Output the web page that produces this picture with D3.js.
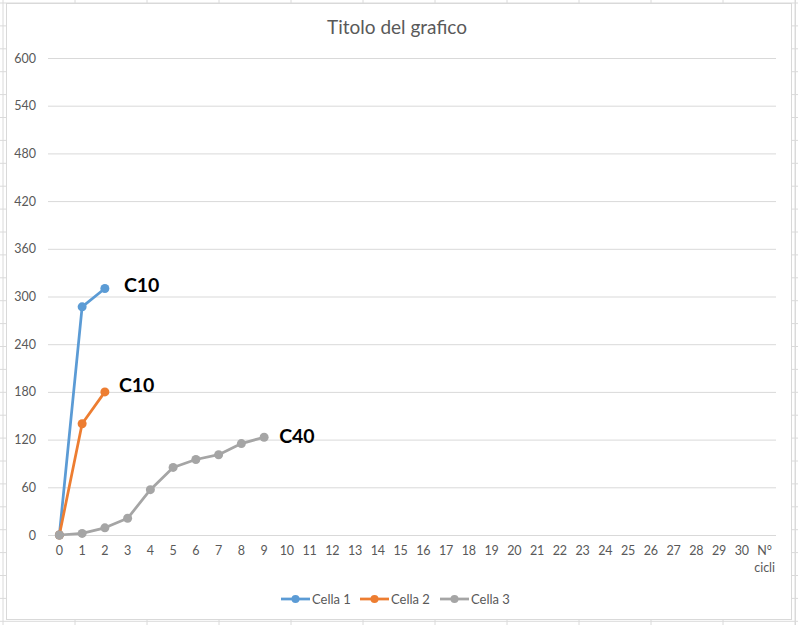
<!DOCTYPE html>
<html>
<head>
<meta charset="utf-8">
<script src="https://cdn.jsdelivr.net/npm/d3@7"></script>
<style>
  html, body { margin: 0; padding: 0; background: #ffffff; }
  svg { display: block; }
  text { font-family: Lato, "Open Sans", "Liberation Sans", sans-serif; }
</style>
</head>
<body>
<svg id="chart" width="798" height="625"></svg>
<script>
// ---- data ----
const categories = ["0","1","2","3","4","5","6","7","8","9","10","11","12","13","14","15","16","17","18","19","20","21","22","23","24","25","26","27","28","29","30","N° cicli"];
const yTicks = [0, 60, 120, 180, 240, 300, 360, 420, 480, 540, 600];
const seriesNames = ["Cella 1", "Cella 2", "Cella 3"];
const cella1 = [0, 287, 310];
const cella2 = [0, 140, 180];
const cella3 = [0, 2, 9, 21, 57, 85, 95, 101, 115, 123];
const endLabels = ["C10", "C10", "C40"];
const chartTitle = "Titolo del grafico";

const colors = ["#5B9BD5", "#ED7D31", "#A5A5A5"];
const seriesData = [cella1, cella2, cella3];

const svg = d3.select("#chart");
const W = 798, H = 625;

// spreadsheet grid behind the chart
const sheet = svg.append("g");
for (let gx = 3; gx < W; gx += 72) {
  sheet.append("line").attr("x1", gx).attr("x2", gx).attr("y1", 0).attr("y2", H)
    .attr("stroke", "#dadada").attr("stroke-width", 1);
}
for (let gy = 3; gy < H; gy += 22.9) {
  sheet.append("line").attr("x1", 0).attr("x2", W).attr("y1", gy).attr("y2", gy)
    .attr("stroke", "#dadada").attr("stroke-width", 1);
}
svg.append("line").attr("x1", 795.5).attr("x2", 795.5).attr("y1", 0).attr("y2", H)
  .attr("stroke", "#dadada");

// chart area
svg.append("rect").attr("x", 6.5).attr("y", 3.5).attr("width", 785).attr("height", 616)
  .attr("fill", "#ffffff").attr("stroke", "#d9d9d9").attr("stroke-width", 1);

const plot = { left: 48, right: 776, top: 58, bottom: 535 };

const x = d3.scaleBand().domain(categories).range([plot.left, plot.right]);
const xc = c => x(c) + x.bandwidth() / 2;
const y = d3.scaleLinear().domain([0, 600]).range([plot.bottom, plot.top]);

// title
svg.append("text").attr("x", 397).attr("y", 34).attr("text-anchor", "middle")
  .attr("font-size", 19).attr("fill", "#595959").text(chartTitle);

// gridlines + y axis labels
const yAxis = d3.axisLeft(y).tickValues(yTicks).tickSize(-(plot.right - plot.left)).tickPadding(12);
const gy = svg.append("g").attr("transform", `translate(${plot.left},0)`).call(yAxis);
gy.select(".domain").remove();
gy.selectAll(".tick line").attr("stroke", "#d9d9d9").attr("stroke-width", 1);
gy.selectAll(".tick text").attr("fill", "#595959").attr("font-size", 12.5)
  .style("font-family", "Lato, 'Open Sans', sans-serif");

// x axis
const xAxis = d3.axisBottom(x).tickSize(0).tickPadding(11);
const gx = svg.append("g").attr("transform", `translate(0,${plot.bottom})`).call(xAxis);
gx.select(".domain").attr("stroke", "#d9d9d9").attr("d", `M${plot.left},0.5H${plot.right}`);
gx.selectAll(".tick text").attr("fill", "#595959").attr("font-size", 12.5)
  .style("font-family", "Lato, 'Open Sans', sans-serif")
  .each(function(d) {
    if (d.indexOf(" ") >= 0) {
      const parts = d.split(" ");
      const t = d3.select(this).text(null);
      parts.forEach((p, i) => {
        t.append("tspan").attr("x", 0).attr("dy", i === 0 ? "0.71em" : "1.35em").text(p);
      });
      t.attr("dy", null);
    }
  });

// series
const line = d3.line().x((d, i) => xc(categories[i])).y(d => y(d));
const labelOffsets = [[19, -3], [14, -7], [15, -1]];
seriesData.forEach((vals, si) => {
  const g = svg.append("g");
  g.append("path").datum(vals).attr("d", line).attr("fill", "none")
    .attr("stroke", colors[si]).attr("stroke-width", 2.75).attr("stroke-linejoin", "round");
  g.selectAll("circle").data(vals).join("circle")
    .attr("cx", (d, i) => xc(categories[i])).attr("cy", d => y(d)).attr("r", 4.5)
    .attr("fill", colors[si]);
  const li = vals.length - 1;
  svg.append("text")
    .attr("x", xc(categories[li]) + labelOffsets[si][0])
    .attr("y", y(vals[li]) + labelOffsets[si][1])
    .attr("dy", "0.35em").attr("font-size", 19.5).attr("font-weight", "bold")
    .attr("fill", "#000000").text(endLabels[si]);
});

// legend
const legendX = [281, 360, 440];
const legend = svg.append("g");
seriesNames.forEach((n, i) => {
  const lx = legendX[i], ly = 599;
  legend.append("line").attr("x1", lx).attr("x2", lx + 29).attr("y1", ly).attr("y2", ly)
    .attr("stroke", colors[i]).attr("stroke-width", 2.75);
  legend.append("circle").attr("cx", lx + 14.5).attr("cy", ly).attr("r", 4).attr("fill", colors[i]);
  legend.append("text").attr("x", lx + 31).attr("y", ly).attr("dy", "0.35em")
    .attr("font-size", 13).attr("fill", "#595959").text(n);
});
</script>
</body>
</html>
